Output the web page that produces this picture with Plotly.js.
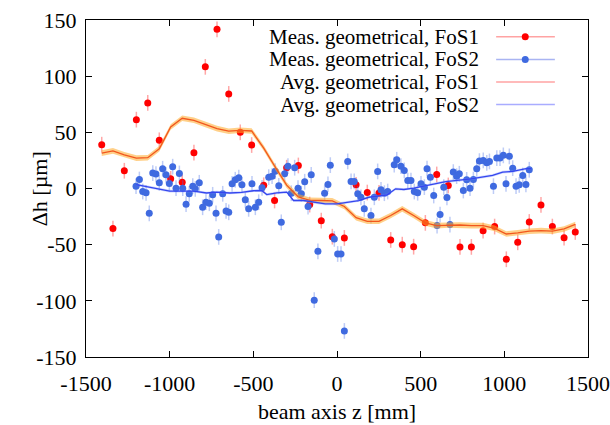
<!DOCTYPE html>
<html>
<head>
<meta charset="utf-8">
<script src="https://cdn.plot.ly/plotly-3.0.1.min.js"></script>
<style>html,body{margin:0;padding:0;background:#fff;}#chart{width:610px;height:425px;}</style>
</head>
<body>
<div id="chart"></div>
<script>
// ---- data ----
const zFoS1 = [-1406,-1339,-1271,-1199,-1131,-1062,-994,-925,-855,-787,-717,-647,-578,-510,-438,-373,-301,-231,-163,-94,-28,44,114,181,251,321,390,458,528,596,665,735,803,873,942,1012,1080,1149,1219,1287,1357,1424];
const dhFoS1 = [39,-35.7,15.8,61.3,76.2,42.9,8.6,5.6,31.9,108.3,141.7,84.2,50,38.7,2.9,-10.7,18.5,20.5,-14.3,-28.6,-42.9,-44,3.3,-3.6,-3.9,-45.8,-50,-51.8,-30.6,12.5,2.7,-52,-52,-37.5,-33.9,-63,-47.9,-29.8,-14.6,-33.9,-43.8,-38.7];
const avgFoS1 = [31.5,33.5,30,27,27.4,35.4,54.8,62.5,60.7,57,53.3,51,51.8,51.2,36,20,3,-7.5,-10.5,-10.7,-11,-16,-26,-29.2,-29.2,-24,-18.1,-24,-30.6,-33,-32.5,-32.5,-33,-33,-35.5,-40.5,-39.5,-38,-37.5,-38,-36,-32];
const errFoS1 = 7;
const bandFoS1 = 2.5;

const zFoS2 = [-1201,-1181,-1161,-1141,-1122,-1101,-1082,-1062,-1042,-1022,-1002,-982,-962,-942,-922,-902,-883,-862,-847,-823,-803,-783,-763,-743,-723,-707,-683,-663,-647,-627,-608,-587,-568,-548,-528,-508,-488,-468,-448,-408,-388,-369,-348,-333,-313,-293,-273,-253,-233,-213,-193,-173,-154,-136,-114,-74,-54,-40,-16,4,24,44,64,84,103,124,143,163,203,223,243,263,283,303,342,357,382,402,423,442,462,482,502,522,538,558,578,598,616,638,657,675,695,715,731,755,775,795,815,835,851,874,895,911,935,955,974,994,1010,1030,1050,1070,1089,1110,1129,1149];
const dhFoS2 = [2.1,8.0,-2.7,-3.8,-22.1,13.7,12.8,5.1,17.6,12.2,4.5,19.4,0.3,13.4,0.3,-14.0,-4.7,2.1,-0.3,5.1,-16.7,-12.2,-13.1,-5.6,-22.1,-43.1,-4.7,-20.0,-21.2,4.2,7.8,9.6,3.3,-10.1,-18.1,4.2,-16.7,-12.2,0.6,10.1,11.0,15.4,2.4,-30.1,13.1,19.9,-4.2,18.5,0.3,-4.7,6.0,-16.1,12.2,-99.4,-55.9,-4.2,3.6,20.8,-44.9,-58.3,-58.3,-126.8,24.1,6.3,6.3,-4.7,-7.8,-18.1,-24.1,-7.8,15.2,-1.2,-4.2,-2.7,21.2,25.6,19.9,16.1,7.1,7.1,-2.7,-3.8,4.2,1.2,17.6,10.1,-6.25,-33.0,-23.2,1.2,-8.0,-32.1,14.6,11.0,13.1,-1.8,7.7,0.3,8.0,17.6,24.4,25.0,22.9,24.1,2.1,27.1,27.1,29.5,4.2,28.6,18.1,2.1,3.3,11.6,3.6,16.7];
const errFoS2 = 7;

const zAvgFoS2 = [-1200,-1130,-1060,-1000,-930,-855,-780,-720,-640,-570,-500,-450,-420,-360,-300,-260,-200,-145,-70,0,130,190,300,350,400,460,530,650,800,930,990,1050,1130,1160];
const avgFoS2 = [3.5,1.5,-0.5,-2.4,-2.4,-2.4,-4,-3.3,-4,-3.5,-2,-1.8,-5.4,-3.9,-3.3,-10.7,-10.7,-12.2,-13.7,-13.7,-10.7,-7.8,-5.6,-0.3,-0.9,0.3,2.7,6.2,8.6,11.6,14.6,15.2,17.6,17.6];
const bandFoS2 = 1.2;

const legendLabels = ["Meas. geometrical, FoS1","Meas. geometrical, FoS2","Avg. geometrical, FoS1","Avg. geometrical, FoS2"];
const xTicks = [-1500,-1000,-500,0,500,1000,1500];
const yTicks = [-150,-100,-50,0,50,100,150];

// ---- helpers ----
function bandPoly(xs, ys, w){
  const bx = xs.concat(xs.slice().reverse());
  const by = ys.map(v=>v+w).concat(ys.map(v=>v-w).reverse());
  return {x:bx, y:by};
}
const b1 = bandPoly(zFoS1, avgFoS1, bandFoS1);
const b2 = bandPoly(zAvgFoS2, avgFoS2, bandFoS2);

const RED = '#ff0000', BLUE = '#3f6ae0';
const FONT = 'Liberation Serif';
const FS = 22;
const FS_LEG = 21;

const traces = [
  {x:zFoS1, y:dhFoS1, type:'scatter', mode:'markers', marker:{color:RED,size:7},
   error_y:{type:'constant', value:errFoS1, color:'rgba(255,60,60,0.45)', thickness:1.5, width:0}, hoverinfo:'skip'},
  {x:zFoS2, y:dhFoS2, type:'scatter', mode:'markers', marker:{color:BLUE,size:7},
   error_y:{type:'constant', value:errFoS2, color:'rgba(70,110,230,0.35)', thickness:1.5, width:0}, hoverinfo:'skip'},
  {x:b1.x, y:b1.y, type:'scatter', mode:'lines', fill:'toself', fillcolor:'rgba(255,170,40,0.55)', line:{width:0}, hoverinfo:'skip'},
  {x:zFoS1, y:avgFoS1, type:'scatter', mode:'lines', line:{color:'#f2561d', width:1.3}, hoverinfo:'skip'},
  {x:b2.x, y:b2.y, type:'scatter', mode:'lines', fill:'toself', fillcolor:'rgba(120,140,255,0.35)', line:{width:0}, hoverinfo:'skip'},
  {x:zAvgFoS2, y:avgFoS2, type:'scatter', mode:'lines', line:{color:'#3446ee', width:1.3}, hoverinfo:'skip'}
];

// custom gnuplot-style legend (text right, sample to its right)
const rowY = [0.950, 0.883, 0.816, 0.749];
const textX = 0.787, lineX0 = 0.817, lineX1 = 0.934, markX = 0.875;
const sampleColors = ['#ffa3a3','#a9b4f2','#ffa3a3','#a9acff'];
const annotations = legendLabels.map((t,i)=>({
  text:t, xref:'paper', yref:'paper', x:textX, y:rowY[i], xanchor:'right', yanchor:'middle',
  showarrow:false, font:{family:FONT, size:FS_LEG, color:'#000'}
}));
annotations.push({text:'Δh [µm]', xref:'paper', yref:'paper', x:-0.092, y:0.5, xanchor:'center', yanchor:'middle',
  textangle:-90, showarrow:false, font:{family:FONT, size:FS, color:'#000'}});
const shapes = [];
rowY.forEach((y,i)=>{
  shapes.push({type:'line', xref:'paper', yref:'paper', x0:lineX0, x1:lineX1, y0:y, y1:y, line:{color:sampleColors[i], width:1.5}});
});
[0,1].forEach(i=>{
  const rx = 3.5/502, ry = 3.5/337;
  shapes.push({type:'circle', xref:'paper', yref:'paper', x0:markX-rx, x1:markX+rx, y0:rowY[i]-ry, y1:rowY[i]+ry,
    fillcolor: i===0?RED:BLUE, line:{width:0}});
});

const layout = {
  width:610, height:425,
  margin:{l:86, r:22, t:20, b:68},
  paper_bgcolor:'#fff', plot_bgcolor:'#fff',
  showlegend:false,
  font:{family:FONT, size:FS, color:'#000'},
  xaxis:{range:[-1500,1500], tickvals:xTicks, ticktext:xTicks.map(String), ticks:'inside', ticklen:6, tickcolor:'#000',
    showline:true, linecolor:'#000', linewidth:1, mirror:'allticks', showgrid:false, zeroline:false,
    ticklabelstandoff:7, tickfont:{family:FONT, size:FS},
    title:{text:'beam axis z [mm]', font:{family:FONT, size:FS}, standoff:8}},
  yaxis:{range:[-150,150], tickvals:yTicks, ticktext:yTicks.map(String), ticks:'inside', ticklen:6, tickcolor:'#000',
    showline:true, linecolor:'#000', linewidth:1, mirror:'allticks', showgrid:false, zeroline:false,
    ticklabelstandoff:4, tickfont:{family:FONT, size:FS}},
  annotations:annotations,
  shapes:shapes
};

Plotly.newPlot('chart', traces, layout, {staticPlot:true, displayModeBar:false});
</script>
</body>
</html>
